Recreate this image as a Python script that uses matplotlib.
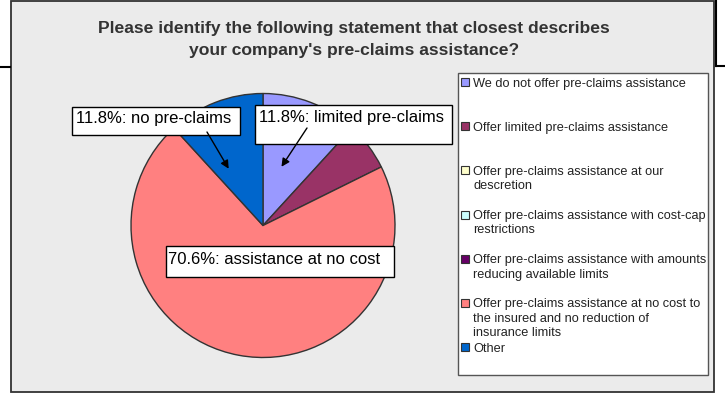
import matplotlib
matplotlib.use('Agg')
import matplotlib.pyplot as plt
from matplotlib.patches import Rectangle
from matplotlib.lines import Line2D
from matplotlib.text import Annotation

# data
categories = [
    'We do not offer pre-claims assistance',
    'Offer limited pre-claims assistance',
    'Offer pre-claims assistance at our\ndescretion',
    'Offer pre-claims assistance with cost-cap\nrestrictions',
    'Offer pre-claims assistance with amounts\nreducing available limits',
    'Offer pre-claims assistance at no cost to\nthe insured and no reduction of\ninsurance limits',
    'Other',
]
values = [11.8, 5.9, 0.0, 0.0, 0.0, 70.6, 11.8]
colors = ['#9999ff', '#993366', '#ffffcc', '#ccffff', '#660066', '#ff8080', '#0066cc']
title = "Please identify the following statement that closest describes\nyour company's pre-claims assistance?"
callouts = ['11.8%: no pre-claims', '11.8%: limited pre-claims', '70.6%: assistance at no cost']

W, H = 725, 393
plt.rcParams['font.family'] = ['Liberation Sans', 'DejaVu Sans']


def fx(x):
    return x / W


def fy(y):
    return 1 - y / H


def box(x0, y0, x1, y1, **kw):
    r = Rectangle((fx(x0), fy(y1)), fx(x1) - fx(x0), fy(y0) - fy(y1),
                  transform=fig.transFigure, **kw)
    fig.add_artist(r)
    return r


fig = plt.figure(figsize=(W / 100, H / 100), dpi=100)
fig.patch.set_facecolor('white')

# stray lines from neighbouring objects
fig.add_artist(Line2D([0, fx(10)], [fy(67), fy(67)], color='black', lw=1.5))
fig.add_artist(Line2D([fx(716), fx(716)], [fy(0), fy(66)], color='black', lw=1.5))
fig.add_artist(Line2D([fx(716), 1], [fy(66), fy(66)], color='black', lw=1.5))

# chart area
box(10.5, 0.5, 714, 392, facecolor='#ebebeb', edgecolor='#333333', lw=1.3, zorder=-1)

fig.text(fx(354), fy(39.5), title, ha='center', va='center', fontsize=12.6,
         fontweight='bold', color='#333333', linespacing=1.5)

# pie
ax = fig.add_axes([fx(131), fy(357.5), 264 / W, 264 / H])
ax.set_zorder(1)
vals = [v for v in values if v > 0]
cols = [c for v, c in zip(values, colors) if v > 0]
ax.pie(vals, colors=cols, startangle=90, counterclock=False, radius=1,
       wedgeprops=dict(edgecolor='#333333', linewidth=1))
ax.set_xlim(-1, 1)
ax.set_ylim(-1, 1)
ax.axis('off')

# callout boxes
box(72, 107, 240, 135, facecolor='white', edgecolor='black', lw=1, zorder=3)
fig.text(fx(76), fy(119), callouts[0], ha='left', va='center', fontsize=12, zorder=4)
box(255, 104.5, 452, 144.5, facecolor='white', edgecolor='black', lw=1, zorder=3)
fig.text(fx(259), fy(117.5), callouts[1], ha='left', va='center', fontsize=12, zorder=4)
box(165.5, 246, 393.5, 277, facecolor='white', edgecolor='black', lw=1, zorder=3)
fig.text(fx(168), fy(259.5), callouts[2], ha='left', va='center', fontsize=12, zorder=4)

arrow = dict(arrowstyle='-|>', color='black', lw=1, mutation_scale=12,
             shrinkA=0, shrinkB=0)
for tip, start in [((-0.26, 0.43), (207, 132)), ((0.14, 0.445), (307, 128))]:
    a = Annotation('', xy=tip, xycoords=ax.transData,
                   xytext=(fx(start[0]), fy(start[1])), textcoords=fig.transFigure,
                   arrowprops=arrow, annotation_clip=False)
    a.set_zorder(5)
    fig.add_artist(a)

# legend
box(457.5, 73, 708, 375, facecolor='white', edgecolor='#555555', lw=1, zorder=2)
for i, (lab, c) in enumerate(zip(categories, colors)):
    yc = 82 + i * 44.2
    box(461, yc - 4, 469, yc + 4, facecolor=c, edgecolor='#333333', lw=0.8, zorder=3)
    fig.text(fx(473), fy(yc - 4.5), lab, ha='left', va='top', fontsize=9.2,
             linespacing=1.25, color='#222222', zorder=4)

fig.savefig('out.png', dpi=100, facecolor=fig.get_facecolor())
